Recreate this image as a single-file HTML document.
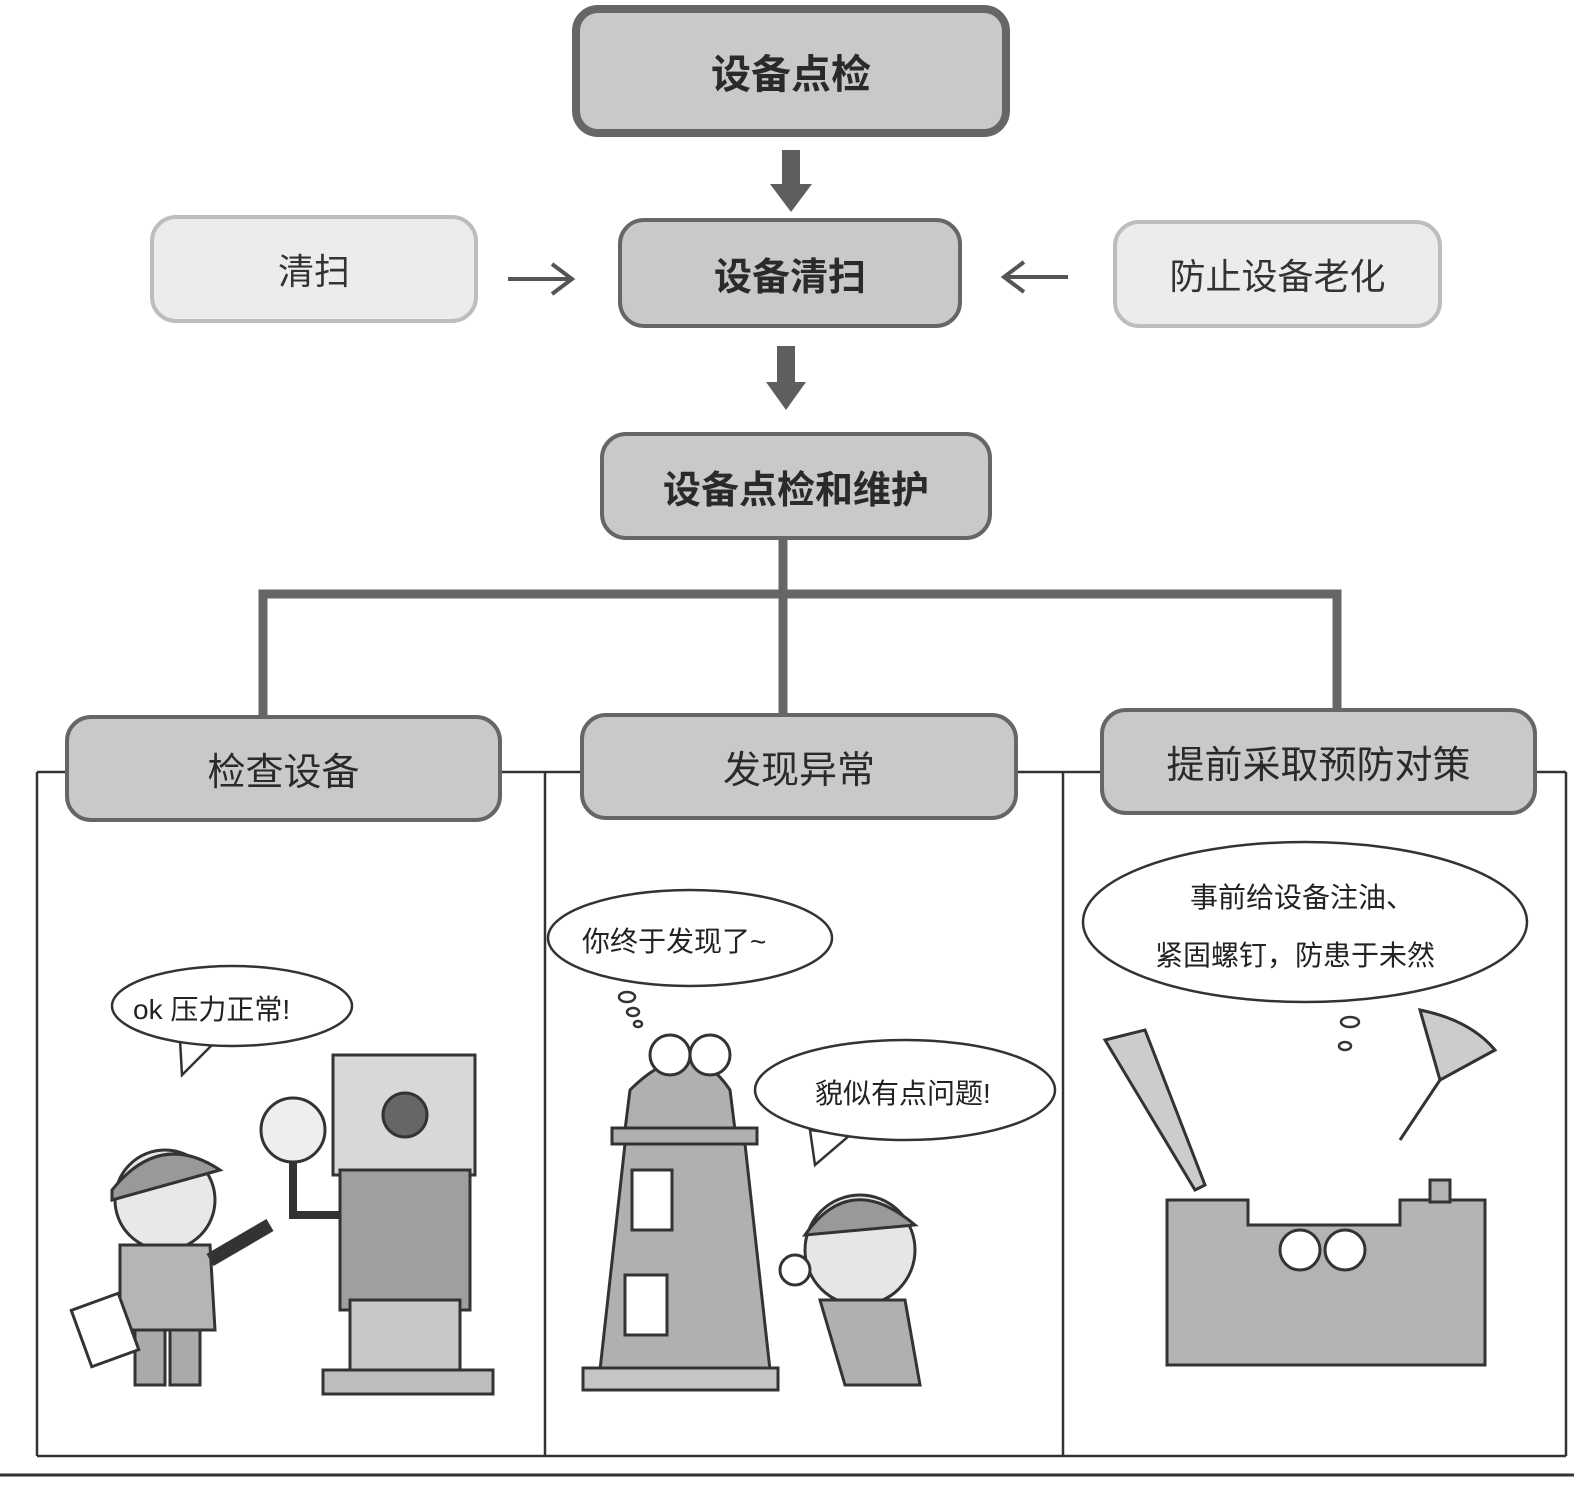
<!DOCTYPE html>
<html><head><meta charset="utf-8"><style>
body{margin:0;background:#fff;}
.w{position:relative;width:1574px;height:1487px;overflow:hidden;font-family:"Liberation Sans","Noto Sans CJK SC",sans-serif;}
.b{position:absolute;box-sizing:border-box;border-radius:26px;display:flex;align-items:center;justify-content:center;color:#2a2a2a;}
.d{background:#c9c9c7;border:4px solid #666;font-size:38px;}
.l{background:#ececea;border:4px solid #bdbdbb;font-size:36px;color:#333;}
svg{position:absolute;left:0;top:0;}
.t{position:absolute;font-size:28px;color:#222;white-space:nowrap;}
</style></head><body><div class="w">
<svg width="1574" height="1487">
<g fill="#5e5e5c">
<rect x="782" y="150" width="18" height="36"/><polygon points="770,184 812,184 791,212"/>
<rect x="777" y="346" width="18" height="38"/><polygon points="766,382 806,382 786,410"/>
</g>
<g stroke="#555" stroke-width="4" fill="none">
<path d="M508 279 H572 M552 264 L572 279 L552 294"/>
<path d="M1068 277 H1004 M1024 262 L1004 277 L1024 292"/>
</g>
<g stroke="#666" stroke-width="9" fill="none">
<path d="M783 540 V594 M263 715 V594 H1337 V710 M783 594 V715"/>
</g>
<g stroke="#333" stroke-width="2.5" fill="none">
<path d="M37 772 H1566 M37 772 V1456 M545 772 V1456 M1063 772 V1456 M1566 772 V1456 M37 1456 H1566"/>
<path d="M0 1475 H1574" stroke-width="3"/>
</g>
<g fill="#fff" stroke="#333" stroke-width="2.5">
<path d="M180 1040 L182 1075 L215 1042Z"/>
<path d="M810 1130 L815 1165 L850 1135Z"/>
<path d="M232 1006 m-120 0 a120 40 0 1 0 240 0 a120 40 0 1 0 -240 0"/>
<path d="M690 938 m-142 0 a142 48 0 1 0 284 0 a142 48 0 1 0 -284 0"/>
<path d="M905 1090 m-150 0 a150 50 0 1 0 300 0 a150 50 0 1 0 -300 0"/>
<path d="M1305 922 m-222 0 a222 80 0 1 0 444 0 a222 80 0 1 0 -444 0"/>
<ellipse cx="627" cy="997" rx="8" ry="5"/><ellipse cx="633" cy="1012" rx="6" ry="4"/><ellipse cx="638" cy="1024" rx="4" ry="3"/>
<ellipse cx="1350" cy="1022" rx="9" ry="5"/><ellipse cx="1345" cy="1046" rx="6" ry="4"/>
</g>
<g stroke="#333" stroke-width="3" fill="#b5b5b3">
<rect x="333" y="1055" width="142" height="120" fill="#d8d8d6"/>
<rect x="340" y="1170" width="130" height="140" fill="#9f9f9d"/>
<rect x="350" y="1300" width="110" height="80" fill="#c8c8c6"/>
<rect x="323" y="1370" width="170" height="24" fill="#bdbdbb"/>
<circle cx="405" cy="1115" r="22" fill="#666"/>
<circle cx="293" cy="1130" r="32" fill="#eee"/>
<path d="M293 1162 V1215 H340" fill="none" stroke-width="8"/>
<circle cx="165" cy="1200" r="50" fill="#e8e8e6"/>
<path d="M112 1190 Q160 1130 220 1170 L112 1200Z" fill="#999"/>
<path d="M120 1245 L210 1245 L215 1330 L120 1330Z"/>
<rect x="135" y="1330" width="30" height="55" fill="#aaa"/><rect x="170" y="1330" width="30" height="55" fill="#aaa"/>
<path d="M210 1260 L270 1225" stroke-width="14" fill="none"/>
<rect x="80" y="1300" width="50" height="60" fill="#fff" transform="rotate(-20 105 1330)"/>
</g>
<g stroke="#333" stroke-width="3" fill="#b0b0ae">
<path d="M630 1090 Q690 1030 730 1090 L735 1130 L625 1130Z"/>
<rect x="612" y="1128" width="145" height="16"/>
<path d="M625 1144 L745 1144 L770 1370 L600 1370Z"/>
<rect x="583" y="1368" width="195" height="22" fill="#c5c5c3"/>
<rect x="632" y="1170" width="40" height="60" fill="#fff"/><rect x="625" y="1275" width="42" height="60" fill="#fff"/>
<circle cx="670" cy="1055" r="20" fill="#fff"/><circle cx="710" cy="1055" r="20" fill="#fff"/>
<circle cx="860" cy="1250" r="55" fill="#e6e6e4"/>
<path d="M805 1235 Q850 1170 915 1225Z" fill="#999"/>
<path d="M820 1300 L905 1300 L920 1385 L845 1385Z"/>
<circle cx="795" cy="1270" r="15" fill="#fff"/>
</g>
<g stroke="#333" stroke-width="3" fill="#b3b3b1">
<path d="M1167 1200 H1248 V1225 H1400 V1200 H1485 V1365 H1167Z"/>
<rect x="1430" y="1180" width="20" height="22"/>
<circle cx="1300" cy="1250" r="20" fill="#fff"/><circle cx="1345" cy="1250" r="20" fill="#fff"/>
<path d="M1105 1040 L1145 1030 L1205 1185 L1195 1190Z" fill="#ccc"/>
<path d="M1420 1010 Q1470 1020 1495 1050 L1440 1080Z" fill="#ccc"/>
<path d="M1440 1080 L1400 1140" fill="none"/>
</g>
</svg>
<div class="b d" style="left:572px;top:5px;width:438px;height:132px;border-width:8px;font-weight:bold;font-size:40px;">设备点检</div>
<div class="b l" style="left:150px;top:215px;width:328px;height:108px;">清扫</div>
<div class="b d" style="left:618px;top:218px;width:344px;height:110px;font-weight:bold;">设备清扫</div>
<div class="b l" style="left:1113px;top:220px;width:329px;height:108px;">防止设备老化</div>
<div class="b d" style="left:600px;top:432px;width:392px;height:108px;font-weight:bold;">设备点检和维护</div>
<div class="b d" style="left:65px;top:715px;width:437px;height:107px;">检查设备</div>
<div class="b d" style="left:580px;top:713px;width:438px;height:107px;">发现异常</div>
<div class="b d" style="left:1100px;top:708px;width:437px;height:107px;">提前采取预防对策</div>
<div class="t" style="left:133px;top:988px;">ok 压力正常!</div>
<div class="t" style="left:582px;top:920px;">你终于发现了~</div>
<div class="t" style="left:815px;top:1072px;">貌似有点问题!</div>
<div class="t" style="left:1190px;top:876px;">事前给设备注油、</div>
<div class="t" style="left:1155px;top:934px;">紧固螺钉，防患于未然</div>
</div></body></html>
